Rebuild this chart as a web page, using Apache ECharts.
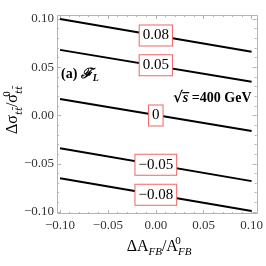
<!DOCTYPE html>
<html><head><meta charset="utf-8">
<script src="https://cdn.jsdelivr.net/npm/echarts/dist/echarts.min.js"></script>
<style>html,body{margin:0;padding:0;background:#fff}#c{width:266px;height:266px}</style>
</head><body><div id="c"></div>
<script>
// Contour levels and their line endpoints
const contourLabels = ['0.08', '0.05', '0', '-0.05', '-0.08'];
const lineX = [-0.10, 0.10];
const lineStartY = [0.100, 0.068, 0.017, -0.034, -0.065];
const lineEndY = [0.066, 0.035, -0.016, -0.068, -0.099];
const labelX = 0.0;
const labelY = [0.083, 0.052, 0.000, -0.051, -0.082];
const axisMin = -0.10, axisMax = 0.10, axisStep = 0.05;

const SERIF = '"Liberation Serif","DejaVu Serif",serif';
const FRAME = '#b4b4b4';
const fmt = v => (Math.abs(v) < 1e-9 ? 0 : v).toFixed(2).replace('-', '\u2212');

function valAxis(extra) {
  return Object.assign({
    type: 'value', min: axisMin, max: axisMax, interval: axisStep,
    axisLine: { show: false, onZero: false },
    axisTick: { show: true, inside: true, length: 4, lineStyle: { color: FRAME, width: 1 } },
    minorTick: { show: true, splitNumber: 5, length: 2, lineStyle: { color: FRAME, width: 1 } },
    splitLine: { show: false }, minorSplitLine: { show: false },
    axisLabel: { show: true, formatter: fmt, fontFamily: SERIF, fontSize: 13, color: '#333' }
  }, extra);
}

const series = [];
contourLabels.forEach((lab, i) => {
  series.push({
    type: 'line', xAxisIndex: 0, yAxisIndex: 0, symbol: 'none', silent: true,
    lineStyle: { color: '#000', width: 2 },
    data: [[lineX[0], lineStartY[i]], [lineX[1], lineEndY[i]]], z: 2
  });
});
series.push({
  type: 'scatter', xAxisIndex: 0, yAxisIndex: 0, silent: true, symbolSize: 1,
  itemStyle: { color: 'rgba(0,0,0,0)' }, z: 5,
  data: labelY.map(y => [labelX, y]),
  label: {
    show: true, position: 'inside', opacity: 1,
    formatter: p => contourLabels[p.dataIndex].replace('-', '\u2212'),
    fontFamily: SERIF, fontSize: 15, color: '#000', lineHeight: 17,
    backgroundColor: '#fff', borderColor: '#f26464', borderWidth: 1, padding: [2, 3, 1, 3]
  }
});

const chart = echarts.init(document.getElementById('c'), null, { renderer: 'canvas' });
chart.setOption({
  animation: false,
  backgroundColor: '#fff',
  grid: { left: 60, right: 13, top: 19, bottom: 54, containLabel: false },
  xAxis: [
    valAxis({ position: 'bottom', offset: 2, axisLabel: { formatter: fmt, fontFamily: SERIF, fontSize: 13, color: '#333', margin: 5 } }),
    valAxis({ position: 'top', offset: 4, axisLabel: { show: false } })
  ],
  yAxis: [
    valAxis({ position: 'left', offset: 3, axisLabel: { formatter: fmt, fontFamily: SERIF, fontSize: 13, color: '#333', margin: 3 } }),
    valAxis({ position: 'right', offset: 5, axisLabel: { show: false } })
  ],
  series: series,
  graphic: [
    { type: 'rect', silent: true, z: 1, shape: { x: 57.5, y: 15.5, width: 200, height: 198 },
      style: { fill: 'none', stroke: FRAME, lineWidth: 1 } },
    { type: 'text', silent: true, z: 10, x: 61, y: 74,
      style: { text: '{b|(a) }{f|\u2131}{s|L}', x: 0, y: 0, textAlign: 'left', textVerticalAlign: 'middle',
        rich: {
          b: { fontFamily: SERIF, fontWeight: 'bold', fontSize: 14, lineHeight: 18, fill: '#000' },
          f: { fontFamily: '"DejaVu Serif",serif', fontStyle: 'italic', fontWeight: 'bold', fontSize: 14, lineHeight: 18, fill: '#000' },
          s: { fontFamily: SERIF, fontStyle: 'italic', fontWeight: 'bold', fontSize: 10, lineHeight: 9, verticalAlign: 'bottom', fill: '#000' }
        } } },
    { type: 'text', silent: true, z: 10, x: 173, y: 98,
      style: { text: '{r|\u221A}{s|s\u0305}{b| =400 GeV}', x: 0, y: 0, textAlign: 'left', textVerticalAlign: 'middle',
        rich: {
          r: { fontFamily: '"DejaVu Serif",serif', fontWeight: 'bold', fontSize: 15, lineHeight: 18, fill: '#000' },
          s: { fontFamily: SERIF, fontStyle: 'italic', fontWeight: 'bold', fontSize: 14, lineHeight: 18, fill: '#000' },
          b: { fontFamily: SERIF, fontWeight: 'bold', fontSize: 14, lineHeight: 18, fill: '#000' }
        } } },
    { type: 'text', silent: true, z: 10, x: 159, y: 247,
      style: { text: '{m|\u0394A}{sb|FB}{m|/A}{sp|0}{sb|FB}', x: 0, y: 0, textAlign: 'center', textVerticalAlign: 'middle',
        rich: {
          m: { fontFamily: SERIF, fontSize: 16, lineHeight: 22, fill: '#000' },
          sb: { fontFamily: SERIF, fontStyle: 'italic', fontSize: 11, lineHeight: 11, verticalAlign: 'bottom', fill: '#000' },
          sp: { fontFamily: SERIF, fontSize: 11, lineHeight: 11, width: 0.001, align: 'left', verticalAlign: 'top', fill: '#000' }
        } } },
    { type: 'text', silent: true, z: 10, x: 13, y: 110, rotation: Math.PI / 2,
      style: { text: '{m|\u0394\u03C3}{sb|tt\u0304}{m|/\u03C3}{sp|0}{sb|tt\u0304}', x: 0, y: 0, textAlign: 'center', textVerticalAlign: 'middle',
        rich: {
          m: { fontFamily: SERIF, fontSize: 16, lineHeight: 22, fill: '#000' },
          sb: { fontFamily: '"DejaVu Serif",serif', fontStyle: 'italic', fontSize: 10, lineHeight: 11, verticalAlign: 'bottom', fill: '#000' },
          sp: { fontFamily: SERIF, fontSize: 11, lineHeight: 11, width: 0.001, align: 'left', verticalAlign: 'top', fill: '#000' }
        } } }
  ]
});
</script>
</body></html>
